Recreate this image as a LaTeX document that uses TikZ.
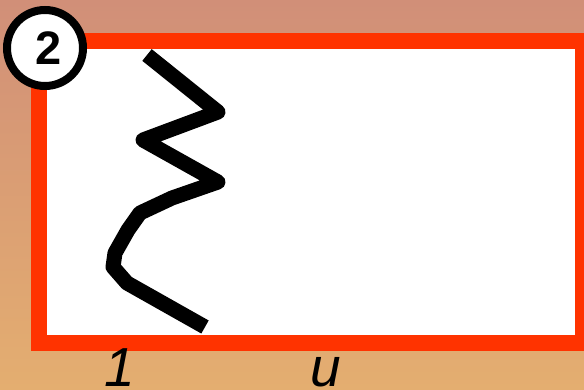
\documentclass[tikz,border=0pt]{standalone}
\usepackage{fontspec}
\setmainfont{Liberation Sans}
\definecolor{frame}{HTML}{FF3300}
\definecolor{bgtop}{HTML}{D18F78}
\definecolor{bgbot}{HTML}{E4AE70}
\begin{document}
\begin{tikzpicture}[x=1pt,y=-1pt,
  label/.style={inner sep=0pt,anchor=base,text depth=0pt,font=\fontsize{55}{55}\selectfont\itshape},
  zig/.style={line width=15pt,line join=round,line cap=butt},
  badge/.style={circle,draw=black,line width=8pt,fill=white,minimum size=76pt,inner sep=0pt}]
\useasboundingbox (0,0) rectangle (584,390);
\begin{scope}
\clip (0,0) rectangle (584,390);
\shade[top color=bgtop,bottom color=bgbot] (0,0) rectangle (584,390);
\draw[frame,line width=16pt,fill=white] (39,41) rectangle (583,343);
\draw[zig] (147,55) -- (218,112) -- (143,140) -- (218,182) -- (172,198)
  -- (140,213) -- (128,230) -- (115,253) -- (113,267) -- (127,283) -- (205,327);
\end{scope}
\node[badge] (b2) at (45,48) {};
\node[inner sep=0pt,font=\fontsize{47}{47}\selectfont\bfseries] (two) at (49,48) {2};
\node[label] (l1) at (120,386) {1};
\node[label] (lu) at (326,386) {u};
\end{tikzpicture}
\end{document}
